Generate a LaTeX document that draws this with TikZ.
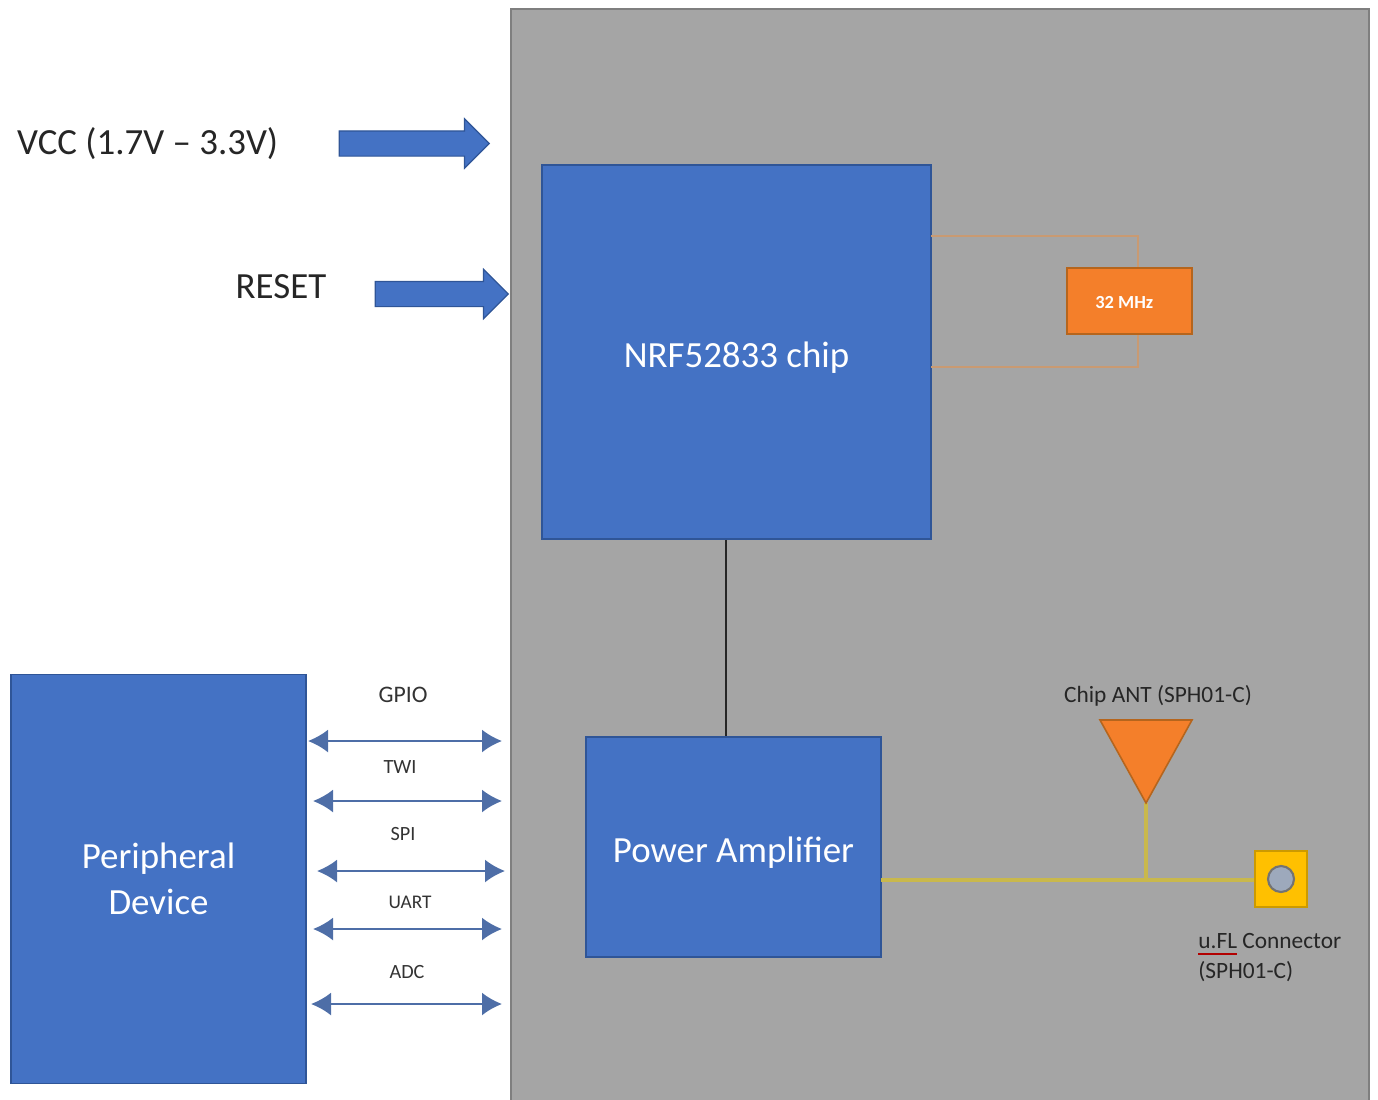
\documentclass[tikz,border=0pt]{standalone}
\usepackage{fontspec}
\setmainfont{Carlito}
\usepackage{tikz}
\usetikzlibrary{positioning,arrows.meta,shapes.arrows}
\definecolor{chipblue}{HTML}{4472C4}
\definecolor{edgeblue}{HTML}{2F5597}
\definecolor{boardgrey}{HTML}{A5A5A5}
\definecolor{edgegrey}{HTML}{7F7F7F}
\definecolor{xtalorange}{HTML}{F47F2A}
\definecolor{edgeorange}{HTML}{B5651D}
\definecolor{traceorange}{HTML}{C99A72}
\definecolor{tracegold}{HTML}{C9B84C}
\definecolor{ufgold}{HTML}{FFC000}
\definecolor{holegrey}{HTML}{9DA9BC}
\tikzset{
  board/.style={draw=edgegrey, line width=1.4pt, fill=boardgrey, minimum width=17.16cm, minimum height=22.4cm},
  bluebox/.style={draw=edgeblue, line width=1pt, fill=chipblue, text=white, align=center, text depth=0pt, font=\fontsize{21}{26}\selectfont},
  xtalbox/.style={draw=edgeorange, line width=1.4pt, fill=xtalorange, text=white, text height=9pt, text depth=0pt, minimum width=2.5cm, minimum height=1.32cm, font=\bfseries\fontsize{10.5}{12}\selectfont},
  ufbox/.style={draw=ufgold!80!black, line width=0.8pt, fill=ufgold, minimum width=1.04cm, minimum height=1.12cm},
  fatarrow/.style={single arrow, anchor=tip, draw=edgeblue, line width=0.7pt, fill=chipblue, minimum width=0pt, inner xsep=0pt, inner ysep=0.24cm, single arrow head extend=0.24cm},
  busarrow/.style={{Latex[length=4mm,width=4.6mm]}-{Latex[length=4mm,width=4.6mm]}, draw=edgeblue!85!white, line width=1.2pt},
  xtaltrace/.style={draw=traceorange, line width=1.4pt},
  rftrace/.style={draw=tracegold, line width=2.2pt},
  biglabel/.style={text=black!85, font=\fontsize{21}{24}\selectfont},
  smalllabel/.style={text=black!85, font=\fontsize{13.3}{17}\selectfont, align=left}
}
\begin{document}
\begin{tikzpicture}[x=0.02cm, y=-0.02cm]
  \useasboundingbox (0,0) rectangle (1378,1099);
  \node[board] (board) at (940,569) {};
  \node[bluebox, text height=18pt, minimum width=7.78cm, minimum height=7.48cm] (chip) at (736.5,352) {NRF52833 chip};
  \node[bluebox, text height=17.5pt, minimum width=5.9cm, minimum height=4.4cm] (amp) at (733.5,847) {Power Amplifier};
  \node[bluebox, minimum width=5.9cm, minimum height=8.18cm] (periph) at (158.5,879) {Peripheral\\Device};
  \node[xtalbox] (xtal) at (1129.5,301) {32 MHz\hspace*{6pt}};
  \node[ufbox] (ufl) at (1281,879) {};
  \node[circle, draw=black!55, line width=1.2pt, fill=holegrey, minimum size=0.52cm, inner sep=0pt] (uflhole) at (ufl) {};
  % antenna
  \coordinate (antl) at (1100,720);
  \coordinate (antr) at (1192,720);
  \coordinate (anttip) at (1146,803);
  \coordinate (rfjoin) at (1146,880);
  \coordinate (ampout) at (881,880);
  \coordinate (xtaltop) at (931,236);
  \coordinate (xtalbot) at (931,367);
  \draw[rftrace] (ampout) -- (rfjoin) -- (rfjoin -| ufl.west);
  \draw[rftrace] (anttip) -- (rfjoin);
  \draw[draw=edgeorange, line width=0.9pt, fill=xtalorange] (antl) -- (antr) -- (anttip) -- cycle;
  \draw[xtaltrace] (xtaltop) -| (xtal.north -| 1138,0);
  \draw[xtaltrace] (xtalbot) -| (xtal.south -| 1138,0);
  \draw[line width=1.4pt, black!85] (chip.south -| 726,0) -- (amp.north -| 726,0);
  % inputs
  \node[fatarrow, minimum height=3cm] (vccarrow) at (490,143.5) {};
  \node[fatarrow, minimum height=2.66cm] (resetarrow) at (509,294) {};
  \node[biglabel, anchor=west] (vcc) at (11,143.5) {VCC (1.7V – 3.3V)};
  \node[biglabel] (reset) at (281,287) {RESET};
  % buses
  \foreach \busname/\ybus/\xleft/\xright/\ylabel/\xlabel/\fsize in {GPIO/741/308/502/695/403/13.5, TWI/801/313/502/767/400/11.5, SPI/871/317/505/834/403/11.5, UART/929/313/502/902/410/11, ADC/1004/311/502/972/407/11.5}{
    \coordinate (\busname l) at (\xleft,\ybus);
    \coordinate (\busname r) at (\xright,\ybus);
    \draw[busarrow] (\busname l) -- (\busname r);
    \node[text=black!80, font=\fontsize{\fsize}{14}\selectfont] (\busname) at (\xlabel,\ylabel) {\busname};
  }
  % labels on the board
  \node[smalllabel] (antlabel) at (1158,696) {Chip ANT (SPH01-C)};
  \node[smalllabel, anchor=north west, inner sep=0pt] (ufllabel) at (1198,933) {u.FL Connector\\(SPH01-C)};
  \draw[red!70!black, line width=0.6pt] (1198,954) -- (1237,954);
\end{tikzpicture}
\end{document}
